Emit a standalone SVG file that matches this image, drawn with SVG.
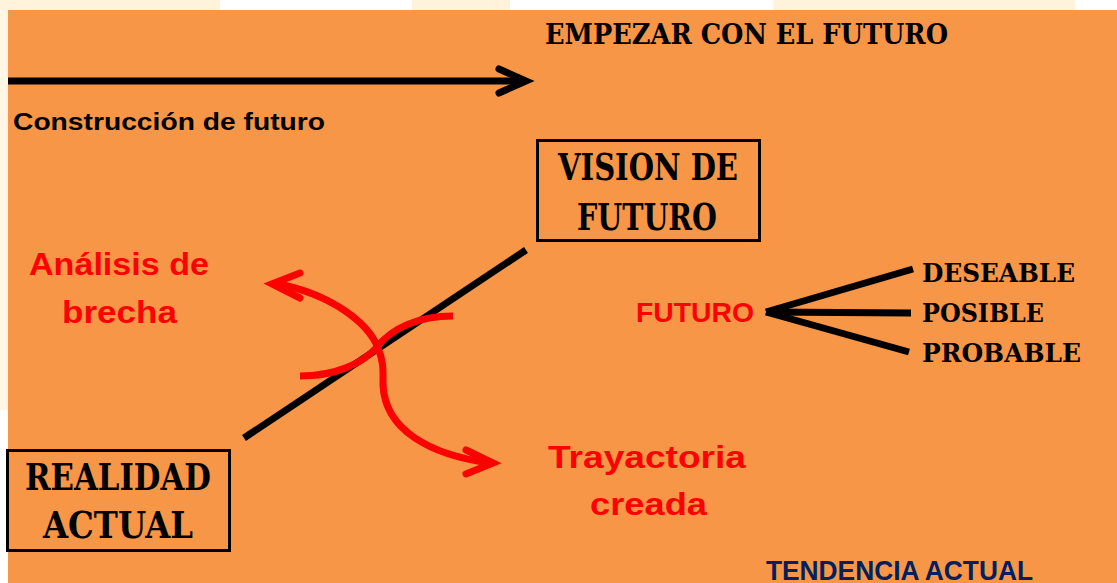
<svg xmlns="http://www.w3.org/2000/svg" width="1117" height="583" viewBox="0 0 1117 583">
<defs>
<style>
.deco{font-family:"DejaVu Serif","Liberation Serif",serif;font-weight:bold;fill:#000;}
.sans{font-family:"Liberation Sans","Noto Sans",sans-serif;font-weight:bold;}
.red{fill:#FF0000;}
.blk{stroke:#000;fill:none;stroke-width:7;}
.rc{stroke:#FF0000;fill:none;stroke-width:7;}
.rh{stroke:#FF0000;fill:none;stroke-width:7;stroke-linecap:round;}
.box{fill:none;stroke:#000;stroke-width:3;}
</style>
</defs>
<rect x="0" y="0" width="1117" height="583" fill="#FFFFFF"/>
<rect x="0" y="0" width="220" height="10" fill="#FFF3DC"/>
<rect x="412" y="0" width="98" height="10" fill="#FFF3DC"/>
<rect x="773" y="0" width="302" height="10" fill="#FFF3DC"/>
<rect x="0" y="10" width="8" height="400" fill="#FFF6E6"/>
<rect x="8" y="10" width="1109" height="573" fill="#F79646"/>

<g id="connectors">
<line class="blk" x1="8" y1="81" x2="524" y2="81"/>
<path d="M499,69 L526,81 L499,93" fill="none" stroke="#000" stroke-width="7" stroke-linecap="round"/>
<line class="blk" x1="244" y1="438" x2="526" y2="250"/>
<path class="rc" d="M300,376 C335,376 362,364 377,347 C392,328 418,316 453,316"/>
<path class="rc" d="M278,284 C330,294 368,322 378,348 C384,362 383,372 383,385 C385,430 430,455 490,463"/>
<path class="rh" d="M300,273 L272,284 L300,298"/>
<path class="rh" d="M466,450 L493,463 L466,474"/>
<line class="blk" x1="766" y1="312" x2="913" y2="269"/>
<line class="blk" x1="766" y1="312" x2="911" y2="313"/>
<line class="blk" x1="766" y1="312" x2="909" y2="352"/>
</g>

<g id="title">
<text class="deco" x="545" y="44" font-size="27" textLength="403" lengthAdjust="spacingAndGlyphs">EMPEZAR CON EL FUTURO</text>
</g>
<g id="construccion">
<text class="sans" x="13" y="130" font-size="24" fill="#000" textLength="312" lengthAdjust="spacingAndGlyphs">Construcción de futuro</text>
</g>
<g id="vision">
<rect class="box" x="537.5" y="140.5" width="222" height="100"/>
<text class="deco" x="558" y="180" font-size="37" textLength="180" lengthAdjust="spacingAndGlyphs">VISION DE</text>
<text class="deco" x="577" y="230" font-size="37" textLength="140" lengthAdjust="spacingAndGlyphs">FUTURO</text>
</g>
<g id="realidad">
<rect class="box" x="7.5" y="450.5" width="222" height="100"/>
<text class="deco" x="25" y="490" font-size="37" textLength="186" lengthAdjust="spacingAndGlyphs">REALIDAD</text>
<text class="deco" x="43" y="538" font-size="37" textLength="150" lengthAdjust="spacingAndGlyphs">ACTUAL</text>
</g>
<g id="analisis">
<text class="sans red" x="29" y="275" font-size="31" textLength="180" lengthAdjust="spacingAndGlyphs">Análisis de</text>
<text class="sans red" x="62" y="323" font-size="31" textLength="115" lengthAdjust="spacingAndGlyphs">brecha</text>
</g>
<g id="trayactoria">
<text class="sans red" x="548" y="468" font-size="31" textLength="198" lengthAdjust="spacingAndGlyphs">Trayactoria</text>
<text class="sans red" x="590" y="515" font-size="31" textLength="117" lengthAdjust="spacingAndGlyphs">creada</text>
</g>
<g id="futuro">
<text class="sans red" x="636" y="322" font-size="28" textLength="118" lengthAdjust="spacingAndGlyphs">FUTURO</text>
</g>
<g id="deseable">
<text class="deco" x="922" y="282" font-size="26" textLength="153" lengthAdjust="spacingAndGlyphs">DESEABLE</text>
</g>
<g id="posible">
<text class="deco" x="922" y="322" font-size="26" textLength="122" lengthAdjust="spacingAndGlyphs">POSIBLE</text>
</g>
<g id="probable">
<text class="deco" x="922" y="362" font-size="26" textLength="159" lengthAdjust="spacingAndGlyphs">PROBABLE</text>
</g>
<g id="tendencia">
<text class="sans" x="766" y="580" font-size="27" fill="#002060" textLength="267" lengthAdjust="spacingAndGlyphs">TENDENCIA ACTUAL</text>
</g>
</svg>
